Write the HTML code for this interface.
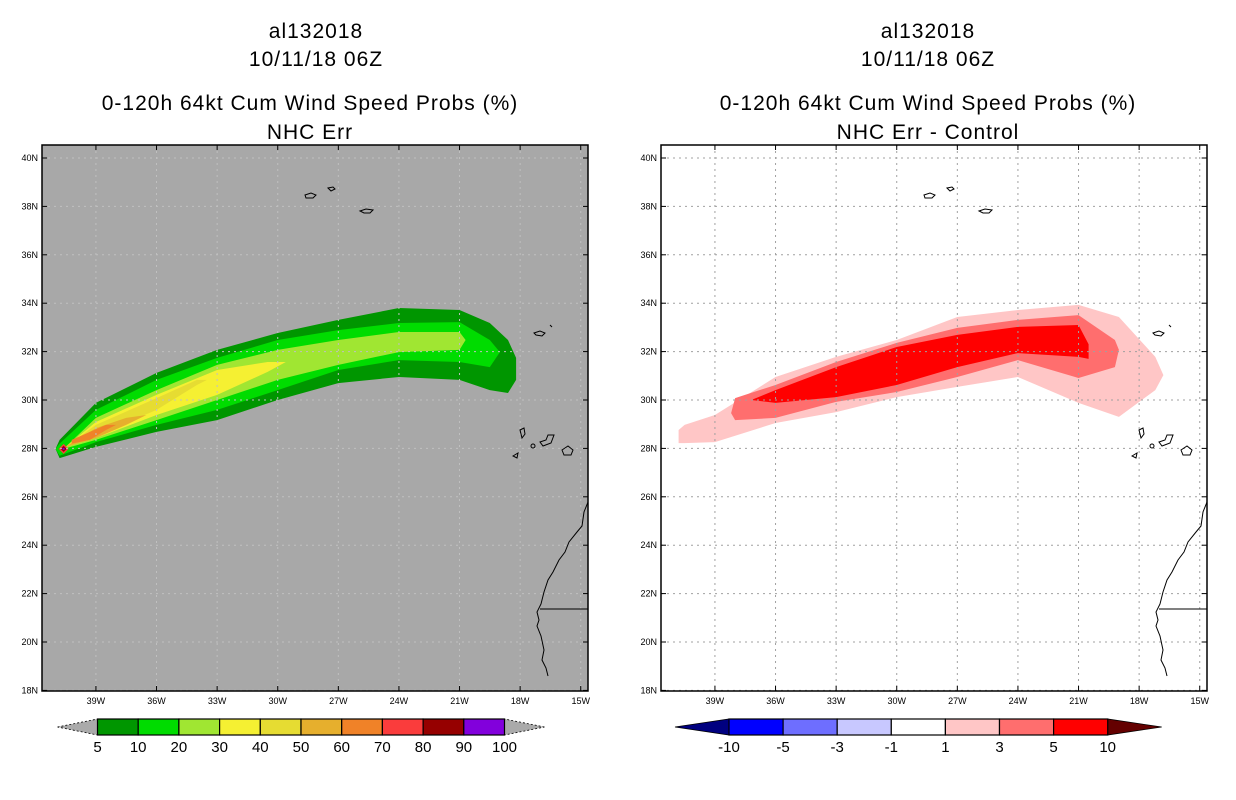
<!DOCTYPE html>
<html><head><meta charset="utf-8"><style>
html,body{margin:0;padding:0;background:#fff;}
svg{display:block;font-family:"Liberation Sans",sans-serif;}
.t{font-size:21px;text-anchor:middle;letter-spacing:1px;}
.tk{font-size:9px;}
.cb{font-size:15px;text-anchor:middle;}
</style></head><body>
<svg id="s" width="1236" height="800" viewBox="0 0 1236 800">
<g>
<text class="t" x="316" y="38">al132018</text>
<text class="t" x="316" y="66">10/11/18 06Z</text>
<text class="t" x="310" y="110">0-120h 64kt Cum Wind Speed Probs (%)</text>
<text class="t" x="310" y="139">NHC Err</text>
</g>
<g>
<text class="t" x="928" y="38">al132018</text>
<text class="t" x="928" y="66">10/11/18 06Z</text>
<text class="t" x="928" y="110">0-120h 64kt Cum Wind Speed Probs (%)</text>
<text class="t" x="928" y="139">NHC Err - Control</text>
</g>
<g id="L"></g>
<g id="R"></g>
<g id="CB"></g>
</svg>
<script>
const lonTicks=[-39,-36,-33,-30,-27,-24,-21,-18,-15];
const latTicks=[18,20,22,24,26,28,30,32,34,36,38,40];
// Left panel (NHC Err) contour bands: lon, top lat, bottom lat
const leftLevels=["5","10","20","30","40","50","60"];
const leftColors=["#009600","#00dc00","#a0e632","#f5f032","#e6dc32","#e6af2d","#f08228"];
const leftLon=[
 [-41.0,-40.8,-39,-36,-33,-30,-27,-24,-21,-19.5,-18.6,-18.2],
 [-41.0,-40.8,-39,-36,-33,-30,-27,-24,-21,-19.5,-19.0],
 [-40.6,-39,-36,-33,-30,-27,-24,-21,-20.7],
 [-40.5,-39,-36,-33,-30.5,-29.6],
 [-40.5,-39,-36,-34,-33.5],
 [-40.5,-39,-37.5,-36.5],
 [-40.2,-39.3,-38.5,-38]];
const leftTop=[
 [27.98,28.35,29.88,31.12,32.07,32.77,33.31,33.8,33.72,33.18,32.48,31.74],
 [27.98,28.2,29.59,30.83,31.74,32.48,32.89,33.18,33.22,32.48,31.98],
 [27.98,29.26,30.41,31.45,32.07,32.48,32.81,32.81,32.48],
 [28.06,29.09,30.21,31.24,31.57,31.57],
 [28.06,28.97,30.08,30.83,30.83],
 [28.06,28.84,29.26,29.38],
 [28.35,28.68,28.97,28.97]];
const leftBot=[
 [27.98,27.6,28.06,28.68,29.17,30.0,30.7,30.95,30.83,30.41,30.29,30.83],
 [27.98,27.7,28.26,28.97,29.59,30.41,31.24,31.65,31.57,31.36,31.98],
 [27.98,28.35,29.17,30.0,30.83,31.45,31.98,32.07,32.48],
 [28.06,28.43,29.38,30.21,31.16,31.57],
 [28.06,28.51,29.59,30.62,30.83],
 [28.06,28.43,28.97,29.38],
 [28.2,28.35,28.76,28.97]];
// Right panel (difference) bands
const rightLevels=["1","3","5"];
const rightColors=["#ffc6c6","#ff6e6e","#ff0000"];
const rightLon=[
 [-40.8,-40.5,-39,-36,-33,-30,-27,-24,-21,-19,-17.2,-16.8],
 [-38.2,-38,-36,-33,-30,-27,-24,-21,-19.2,-19.0],
 [-37.2,-36,-33,-30,-27,-24,-21,-20.5]];
const rightTop=[
 [28.76,28.97,29.38,30.95,31.78,32.48,33.43,33.72,33.93,33.43,31.78,31.03],
 [29.46,30.08,30.62,31.57,32.36,32.98,33.31,33.51,32.48,32.07],
 [30.0,30.41,31.36,32.19,32.69,33.02,33.1,32.3]];
const rightBot=[
 [28.22,28.22,28.26,29.05,29.5,30.12,30.54,30.95,29.88,29.3,30.41,31.03],
 [29.46,29.17,29.26,29.92,30.33,30.95,31.65,30.91,31.36,32.07],
 [30.0,29.88,30.12,30.62,31.36,31.94,31.78,31.7]];
const cbLeftLabels=["5","10","20","30","40","50","60","70","80","90","100"];
const cbLeftColors=["#009600","#00dc00","#a0e632","#f5f032","#e6dc32","#e6af2d","#f08228","#fa3c3c","#960000","#8200dc"];
const cbRightLabels=["-10","-5","-3","-1","1","3","5","10"];
const cbRightColors=["#0000ff","#6e6eff","#c8c8ff","#ffffff","#ffc6c6","#ff6e6e","#ff0000"];

const NS="http://www.w3.org/2000/svg";
const PW=546,PY0=145,PH=546;
const LON0=-41.67,PXDEG=20.2,PYDEG=24.2;
function xS(x0,lon){return x0+(lon-LON0)*PXDEG;}
function yS(lat){return 158+(40-lat)*PYDEG;}
function mk(tag,attrs,parent){const e=document.createElementNS(NS,tag);for(const k in attrs)e.setAttribute(k,attrs[k]);parent.appendChild(e);return e;}

function panel(g,x0,bg,gridCol,lons,tops,bots,cols,levels,side){
  const clipId="clip"+side;
  const cp=mk("clipPath",{id:clipId},g);
  mk("rect",{x:x0,y:PY0,width:PW,height:PH},cp);
  const bgr=mk("rect",{x:x0,y:PY0,width:PW,height:PH,fill:bg},g);
  
  
  const inner=mk("g",{"clip-path":"url(#"+clipId+")"},g);
  for(let i=0;i<lons.length;i++){
    const pts=[];
    for(let j=0;j<lons[i].length;j++)pts.push(xS(x0,lons[i][j]).toFixed(1)+","+yS(tops[i][j]).toFixed(1));
    for(let j=lons[i].length-1;j>=0;j--)pts.push(xS(x0,lons[i][j]).toFixed(1)+","+yS(bots[i][j]).toFixed(1));
    const p=mk("polygon",{points:pts.join(" "),fill:cols[i]},inner);
    
    
  }
  if(side==="L"){
    const cx=xS(x0,-40.6),cy=yS(27.98);
    const m1=mk("polygon",{points:`${cx-5},${cy} ${cx},${cy-5} ${cx+5},${cy} ${cx},${cy+5}`,fill:"#fa3c3c"},inner);
    
    
    mk("polygon",{points:`${cx-3},${cy} ${cx},${cy-3} ${cx+3},${cy} ${cx},${cy+3}`,fill:"#960000"},inner);
    mk("rect",{x:cx-1,y:cy-1,width:2,height:2,fill:"#8200dc"},inner);
  }
  // grid
  for(const lo of lonTicks){const x=xS(x0,lo);mk("line",{x1:x,y1:PY0,x2:x,y2:PY0+PH,stroke:gridCol,"stroke-width":1,"stroke-dasharray":"2,4"},inner);}
  for(const la of latTicks){const y=yS(la);mk("line",{x1:x0,y1:y,x2:x0+PW,y2:y,stroke:gridCol,"stroke-width":1,"stroke-dasharray":"2,4"},inner);}
  // coastlines (pixel offsets relative to panel origin)
  const cg=mk("g",{transform:`translate(${x0-42},0)`,fill:"none",stroke:"#000","stroke-width":1},inner);
  
  
  const paths=["M305,195 l6,-2 l5,2 l-3,3 l-7,0z","M328,188 l5,-1 l2,2 l-4,2z","M360,211 l6,-2 l7,1 l-3,3 l-6,0z",
  "M534,333 l6,-2 l5,2 l-3,3 l-6,-1z","M550,325 l2,2","M520,430 l4,-2 l1,6 l-3,4z","M513,456 l5,-3 l-1,5z","M531,446 a2,2 0 1,0 4,0 a2,2 0 1,0 -4,0",
  "M540,442 l6,-2 l2,-5 l6,0 l-3,8 l-8,3z","M562,450 l6,-4 l5,4 l-2,5 l-7,0z",
  "M588,502 l-4,10 l-2,14 l-5,6 l-8,10 l-4,10 l-6,8 l-6,12 l-5,8 l-4,12 l-3,12 l-4,8 l2,8 l-2,6 l4,10 l3,14 l-2,10 l4,8 l2,8",
  "M540,609 l48,0"];
  for(const d of paths)mk("path",{d:d},cg);
  const fr=mk("rect",{x:x0,y:PY0,width:PW,height:PH,fill:"none",stroke:"#000","stroke-width":1.5},g);
  
  
  for(const la of latTicks){const y=yS(la);
    mk("line",{x1:x0,y1:y,x2:x0+5,y2:y,stroke:"#000"},g);
    mk("line",{x1:x0+PW,y1:y,x2:x0+PW-5,y2:y,stroke:"#000"},g);
    const t=mk("text",{x:x0-4,y:y+3,"text-anchor":"end",class:"tk"},g);t.textContent=la+"N";
    
    }
  for(const lo of lonTicks){const x=xS(x0,lo);
    mk("line",{x1:x,y1:PY0+PH,x2:x,y2:PY0+PH-5,stroke:"#000"},g);
    mk("line",{x1:x,y1:PY0,x2:x,y2:PY0+5,stroke:"#000"},g);
    const t=mk("text",{x:x,y:PY0+PH+13,"text-anchor":"middle",class:"tk"},g);t.textContent=(-lo)+"W";
    
    }
}
panel(document.getElementById("L"),42,"#a8a8a8","#c0c0c0",leftLon,leftTop,leftBot,leftColors,leftLevels,"L");
panel(document.getElementById("R"),661,"#ffffff","#a0a0a0",rightLon,rightTop,rightBot,rightColors,rightLevels,"R");

function colorbar(g,x0,bw,cols,labels,lt,rt,lw,name){
  const y0=719,h=16;
  const xe=x0+bw*cols.length;
  const l=mk("polygon",{points:`${x0-lw},${y0+h/2} ${x0},${y0} ${x0},${y0+h}`,fill:lt,stroke:"#000","stroke-dasharray":lt==="#aaaaaa"?"2,2":"none","stroke-width":0.8},g);
  
  
  const r=mk("polygon",{points:`${xe+lw},${y0+h/2} ${xe},${y0} ${xe},${y0+h}`,fill:rt,stroke:"#000","stroke-dasharray":rt==="#aaaaaa"?"2,2":"none","stroke-width":0.8},g);
  
  
  for(let i=0;i<cols.length;i++){
    const b=mk("rect",{x:x0+i*bw,y:y0,width:bw,height:h,fill:cols[i],stroke:"#000","stroke-width":1.2},g);
    
    
  }
  for(let i=0;i<labels.length;i++){
    const t=mk("text",{x:x0+i*bw,y:y0+h+17,class:"cb"},g);t.textContent=labels[i];
    
    
  }
}
const CB=document.getElementById("CB");
colorbar(CB,97.5,40.7,cbLeftColors,cbLeftLabels,"#aaaaaa","#aaaaaa",40,"left-colorbar");
colorbar(CB,729,54.1,cbRightColors,cbRightLabels,"#000080","#640000",54,"right-colorbar");
</script>
</body></html>
